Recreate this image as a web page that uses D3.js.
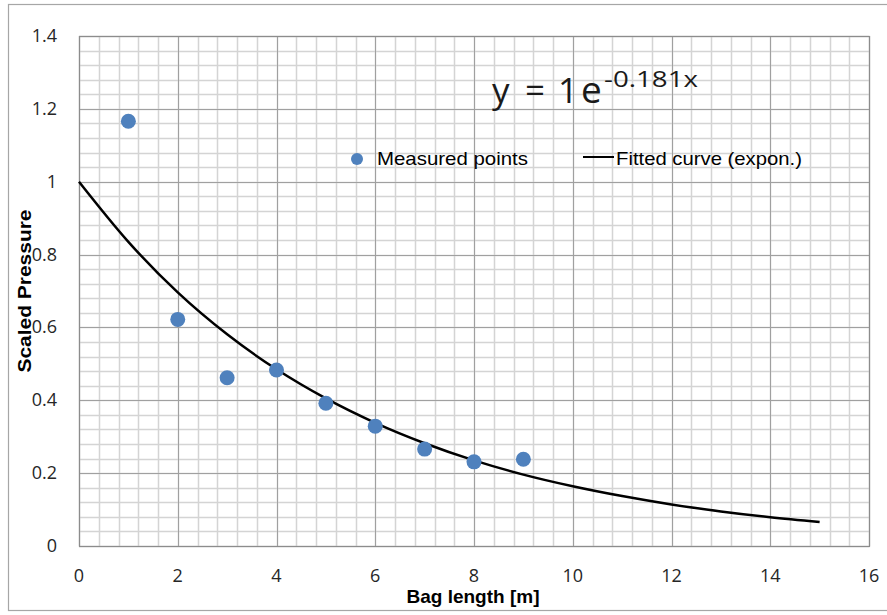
<!DOCTYPE html>
<html lang="en">

<head>
  <meta charset="UTF-8">
  <title>Scaled Pressure vs Bag length</title>
  <script src="https://d3js.org/d3.v7.min.js"></script>
  <style>
    body { margin: 0; background: #fff; }
    .tick-label { font-family: "Open Sans", sans-serif; font-size: 18px; fill: #262626; }
    .axis-title { font-family: "Liberation Sans", Arial, sans-serif; font-size: 19px; font-weight: bold; fill: #000; }
    .legend-text { font-family: "Liberation Sans", Arial, sans-serif; font-size: 19px; fill: #000; }
  </style>
</head>

<body>
  <div id="my_dataviz"></div>
  <script>

    // measured data
    const bagLength = [1, 2, 3, 4, 5, 6, 7, 8, 9];
    const pressure = [1.166, 0.622, 0.462, 0.483, 0.392, 0.329, 0.266, 0.231, 0.238];

    // fitted curve
    const fitX = [0, 1, 2, 3, 4, 5, 6, 7, 8, 9, 10, 11, 12, 13, 14, 15];
    const fitY = [1.0, 0.835, 0.696, 0.581, 0.485, 0.405, 0.338, 0.282, 0.235, 0.196, 0.164, 0.137, 0.114, 0.095, 0.079, 0.066];

    const xTicks = [0, 2, 4, 6, 8, 10, 12, 14, 16];
    const xTickLabels = ["0", "2", "4", "6", "8", "10", "12", "14", "16"];
    const yTicks = [0, 0.2, 0.4, 0.6, 0.8, 1.0, 1.2, 1.4];
    const yTickLabels = ["0", "0.2", "0.4", "0.6", "0.8", "1", "1.2", "1.4"];

    const W = 887, H = 615;
    const margin = { top: 36, right: 18, bottom: 69, left: 79 },
      width = W - margin.left - margin.right,
      height = H - margin.top - margin.bottom;

    const root = d3.select("#my_dataviz")
      .append("svg")
      .attr("width", W)
      .attr("height", H);

    root.append("rect").attr("width", W).attr("height", H).attr("fill", "#fff");
    // outer chart border
    root.append("rect")
      .attr("x", 8.5).attr("y", 4.5)
      .attr("width", 890).attr("height", 606)
      .attr("fill", "none").attr("stroke", "#a6a6a6").attr("stroke-width", 1.2);

    const svg = root.append("g")
      .attr("transform", `translate(${margin.left},${margin.top})`);

    const x = d3.scaleLinear().domain([0, 16]).range([0, width]);
    const y = d3.scaleLinear().domain([0, 1.4]).range([height, 0]);

    // minor grid
    const xMinor = d3.range(41).map(i => i * 0.4);
    const yMinor = d3.range(36).map(i => i * 0.04);
    svg.append("g").selectAll("line")
      .data(xMinor)
      .join("line")
      .attr("x1", d => Math.round(x(d)) + 0.5).attr("x2", d => Math.round(x(d)) + 0.5)
      .attr("y1", 0).attr("y2", height)
      .attr("stroke", "#d4d4d4").attr("stroke-width", 1.5);
    svg.append("g").selectAll("line")
      .data(yMinor)
      .join("line")
      .attr("y1", d => Math.round(y(d)) + 0.5).attr("y2", d => Math.round(y(d)) + 0.5)
      .attr("x1", 0).attr("x2", width)
      .attr("stroke", "#d4d4d4").attr("stroke-width", 1.5);

    // major grid
    svg.append("g").selectAll("line")
      .data(xTicks)
      .join("line")
      .attr("x1", d => Math.round(x(d)) + 0.5).attr("x2", d => Math.round(x(d)) + 0.5)
      .attr("y1", 0).attr("y2", height)
      .attr("stroke", "#a0a0a0").attr("stroke-width", 1);
    svg.append("g").selectAll("line")
      .data(yTicks)
      .join("line")
      .attr("y1", d => Math.round(y(d)) + 0.5).attr("y2", d => Math.round(y(d)) + 0.5)
      .attr("x1", 0).attr("x2", width)
      .attr("stroke", "#a0a0a0").attr("stroke-width", 1);

    // plot frame
    svg.append("rect")
      .attr("x", 0.5).attr("y", 0.5)
      .attr("width", width).attr("height", height)
      .attr("fill", "none").attr("stroke", "#8c8c8c").attr("stroke-width", 1.2);

    // tick labels
    svg.append("g").selectAll("text")
      .data(xTicks)
      .join("text")
      .attr("class", "tick-label")
      .attr("x", d => x(d))
      .attr("y", height + 36)
      .attr("text-anchor", "middle")
      .text((d, i) => xTickLabels[i]);
    svg.append("g").selectAll("text")
      .data(yTicks)
      .join("text")
      .attr("class", "tick-label")
      .attr("x", -22)
      .attr("y", d => y(d) + 6)
      .attr("text-anchor", "end")
      .text((d, i) => yTickLabels[i]);

    // axis titles
    root.append("text")
      .attr("class", "axis-title")
      .attr("x", 473).attr("y", 603)
      .attr("text-anchor", "middle")
      .text("Bag length [m]");
    root.append("text")
      .attr("class", "axis-title")
      .attr("transform", "translate(31,291) rotate(-90)")
      .attr("text-anchor", "middle")
      .attr("textLength", 163)
      .attr("lengthAdjust", "spacingAndGlyphs")
      .text("Scaled Pressure");

    // fitted curve
    svg.append("path")
      .datum(fitX.map((d, i) => [d, fitY[i]]))
      .attr("fill", "none")
      .attr("stroke", "#000")
      .attr("stroke-width", 2.5)
      .attr("d", d3.line()
        .x(d => x(d[0]))
        .y(d => y(d[1]))
        .curve(d3.curveMonotoneX)
      );

    // measured points
    svg.append("g").selectAll("circle")
      .data(bagLength.map((d, i) => [d, pressure[i]]))
      .join("circle")
      .attr("cx", d => x(d[0]))
      .attr("cy", d => y(d[1]))
      .attr("r", 7.5)
      .attr("fill", "#4f81bd");

    // legend
    root.append("circle").attr("cx", 357).attr("cy", 159).attr("r", 6).attr("fill", "#4f81bd");
    root.append("text").attr("class", "legend-text")
      .attr("x", 377).attr("y", 165)
      .attr("textLength", 151).attr("lengthAdjust", "spacingAndGlyphs")
      .text("Measured points");
    root.append("line")
      .attr("x1", 583).attr("x2", 614).attr("y1", 157).attr("y2", 157)
      .attr("stroke", "#000").attr("stroke-width", 2);
    root.append("text").attr("class", "legend-text")
      .attr("x", 616).attr("y", 165)
      .attr("textLength", 186).attr("lengthAdjust", "spacingAndGlyphs")
      .text("Fitted curve (expon.)");

    // trendline equation
    const eq = root.append("text")
      .attr("font-family", "'Open Sans', sans-serif")
      .attr("fill", "#1a1a1a");
    eq.append("tspan").attr("x", 492).attr("y", 103).attr("font-size", 35).text("y");
    eq.append("tspan").attr("x", 525).attr("y", 103).attr("font-size", 35).text("=");
    eq.append("tspan").attr("x", 558).attr("y", 103).attr("font-size", 35).text("1");
    eq.append("tspan").attr("x", 581).attr("y", 103).attr("font-size", 37).text("e");
    eq.append("tspan")
      .attr("x", 604).attr("y", 87)
      .attr("font-size", 21)
      .attr("textLength", 94).attr("lengthAdjust", "spacingAndGlyphs")
      .text("-0.181x");

  </script>
</body>

</html>
